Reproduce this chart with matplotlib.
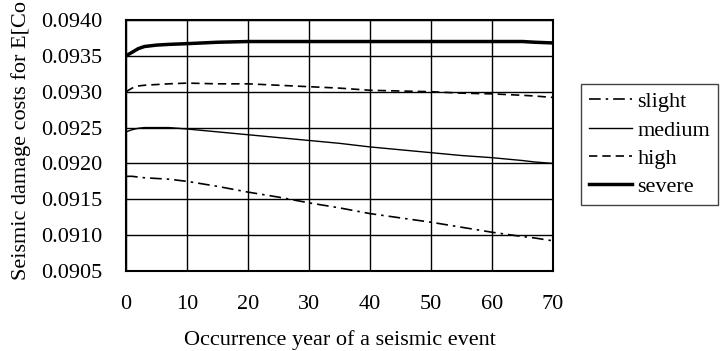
import numpy as np
import matplotlib
matplotlib.use("Agg")
import matplotlib.pyplot as plt

plt.rcParams['font.family'] = ['Liberation Serif', 'DejaVu Serif']
plt.rcParams['font.size'] = 16

years = [0, 1, 2, 3, 5, 7, 10, 15, 20, 25, 30, 35, 40, 45, 50, 55, 60, 65, 67, 70]

slight = [0.09182, 0.09182, 0.09181, 0.09180, 0.09179, 0.09178, 0.09175, 0.09168,
          0.09160, 0.09153, 0.09145, 0.09138, 0.09130, 0.09124, 0.09118, 0.09111,
          0.09104, 0.09098, 0.09096, 0.09092]
medium = [0.09244, 0.09247, 0.09249, 0.09250, 0.09250, 0.09250, 0.09248, 0.09244,
          0.09240, 0.09236, 0.09232, 0.09228, 0.09223, 0.09219, 0.09215, 0.09211,
          0.09208, 0.09204, 0.09202, 0.09200]
high = [0.09300, 0.09305, 0.09308, 0.09309, 0.09310, 0.09311, 0.09312, 0.09311,
        0.09311, 0.09309, 0.09307, 0.09305, 0.09302, 0.09301, 0.09300, 0.09298,
        0.09297, 0.09295, 0.09294, 0.09292]
severe = [0.09350, 0.09355, 0.09360, 0.09363, 0.09365, 0.09366, 0.09367, 0.09369,
          0.09370, 0.09370, 0.09370, 0.09370, 0.09370, 0.09370, 0.09370, 0.09370,
          0.09370, 0.09370, 0.09369, 0.09368]

xticks = [0, 10, 20, 30, 40, 50, 60, 70]
yticks = [0.0905, 0.0910, 0.0915, 0.0920, 0.0925, 0.0930, 0.0935, 0.0940]

fig = plt.figure(figsize=(7.25, 3.51), dpi=100)
ax = fig.add_axes([0.1738, 0.228, 0.589, 0.715])

ax.plot(years, slight, color='black', lw=1.2, linestyle=(0, (7, 3, 1.5, 3)), label='slight')
ax.plot(years, medium, color='black', lw=1.0, label='medium')
ax.plot(years, high, color='black', lw=1.2, linestyle=(0, (5, 3)), label='high')
ax.plot(years, severe, color='black', lw=2.5, label='severe')

ax.set_xlim(0, 70)
ax.set_ylim(0.0905, 0.0940)
ax.set_xticks(xticks)
ax.set_yticks(yticks)
ax.set_yticklabels(["%.4f" % v for v in yticks])
ax.tick_params(length=0)
ax.tick_params(axis='y', pad=17)
ax.tick_params(axis='x', pad=17)
ax.grid(True, color='black', lw=1.0)
for s in ax.spines.values():
    s.set_linewidth(1.5)

ax.set_xlabel("Occurrence year of a seismic event", labelpad=12)
fig.text(0.029, 0.997, "Seismic damage costs for E[Co", rotation=90,
         ha='center', va='top')

leg = ax.legend(loc='upper left', bbox_to_anchor=(0.801, 0.761),
                bbox_transform=fig.transFigure, borderaxespad=0,
                handlelength=1.95, handletextpad=0.25, labelspacing=0.35,
                borderpad=0.35, fancybox=False, framealpha=1)
leg.get_frame().set_edgecolor('#444444')
leg.get_frame().set_linewidth(1.0)

plt.savefig("out.png", dpi=100)
